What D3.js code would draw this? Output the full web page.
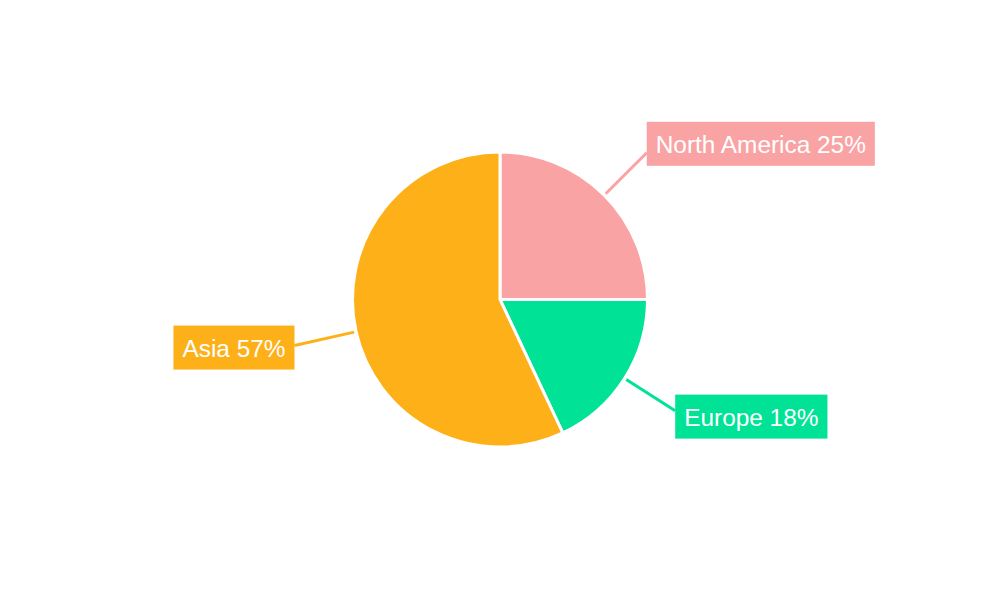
<!DOCTYPE html>
<html>
<head>
<meta charset="utf-8">
<script src="https://cdn.jsdelivr.net/npm/d3@7"></script>
<style>
  body { margin: 0; background: #fff; }
  text { font-family: "Liberation Sans", Arial, sans-serif; }
</style>
</head>
<body>
<script>
// Chart data
var regions = ["North America", "Europe", "Asia"];
var shares = [25, 18, 57];
var colors = ["#f9a3a4", "#00e396", "#feb019"];

var width = 1000,
    height = 600,
    cx = 500,
    cy = 299.5,
    radius = 147.5;

var svg = d3.select("body").append("svg")
    .attr("width", width)
    .attr("height", height);

var pie = d3.pie().sort(null).value(function(d) { return d.value; });
var arc = d3.arc().innerRadius(0).outerRadius(radius);

var data = regions.map(function(r, i) { return { name: r, value: shares[i], color: colors[i] }; });
var arcs = pie(data);

var g = svg.append("g").attr("transform", "translate(" + cx + "," + cy + ")");

g.selectAll("path.slice")
    .data(arcs)
  .enter().append("path")
    .attr("class", "slice")
    .attr("d", arc)
    .attr("fill", function(d) { return d.data.color; })
    .attr("stroke", "#fff")
    .attr("stroke-width", 3);

// Labels with leader lines
var lineStart = radius + 2,
    lineEnd = radius + 60;

arcs.forEach(function(d) {
    var mid = (d.startAngle + d.endAngle) / 2,
        dx = Math.sin(mid),
        dy = -Math.cos(mid);

    var x1 = dx * lineStart, y1 = dy * lineStart,
        x2 = dx * lineEnd, y2 = dy * lineEnd;

    var right = dx >= 0;
    // left-side line runs a little further to meet its box
    if (!right) { x2 -= 3; y2 += 3 * dy / Math.abs(dx); }

    g.append("line")
        .attr("x1", x1).attr("y1", y1)
        .attr("x2", x2).attr("y2", y2)
        .attr("stroke", d.data.color)
        .attr("stroke-width", 3);

    var label = g.append("g");
    var txt = label.append("text")
        .attr("fill", "#fff")
        .attr("font-size", 24.4)
        .attr("dominant-baseline", "central")
        .text(d.data.name + " " + d.data.value + "%");

    var tw = txt.node().getComputedTextLength(),
        padX = 9,
        boxW = tw + padX * 2,
        boxH = 44;

    var boxX = right ? x2 : x2 - boxW;
    var boxY = y2 + 12 * dy - boxH / 2 - 0.5;

    label.insert("rect", "text")
        .attr("x", boxX).attr("y", boxY)
        .attr("width", boxW).attr("height", boxH)
        .attr("fill", d.data.color);

    txt.attr("x", boxX + padX).attr("y", boxY + boxH / 2 + 1);
});
</script>
</body>
</html>
